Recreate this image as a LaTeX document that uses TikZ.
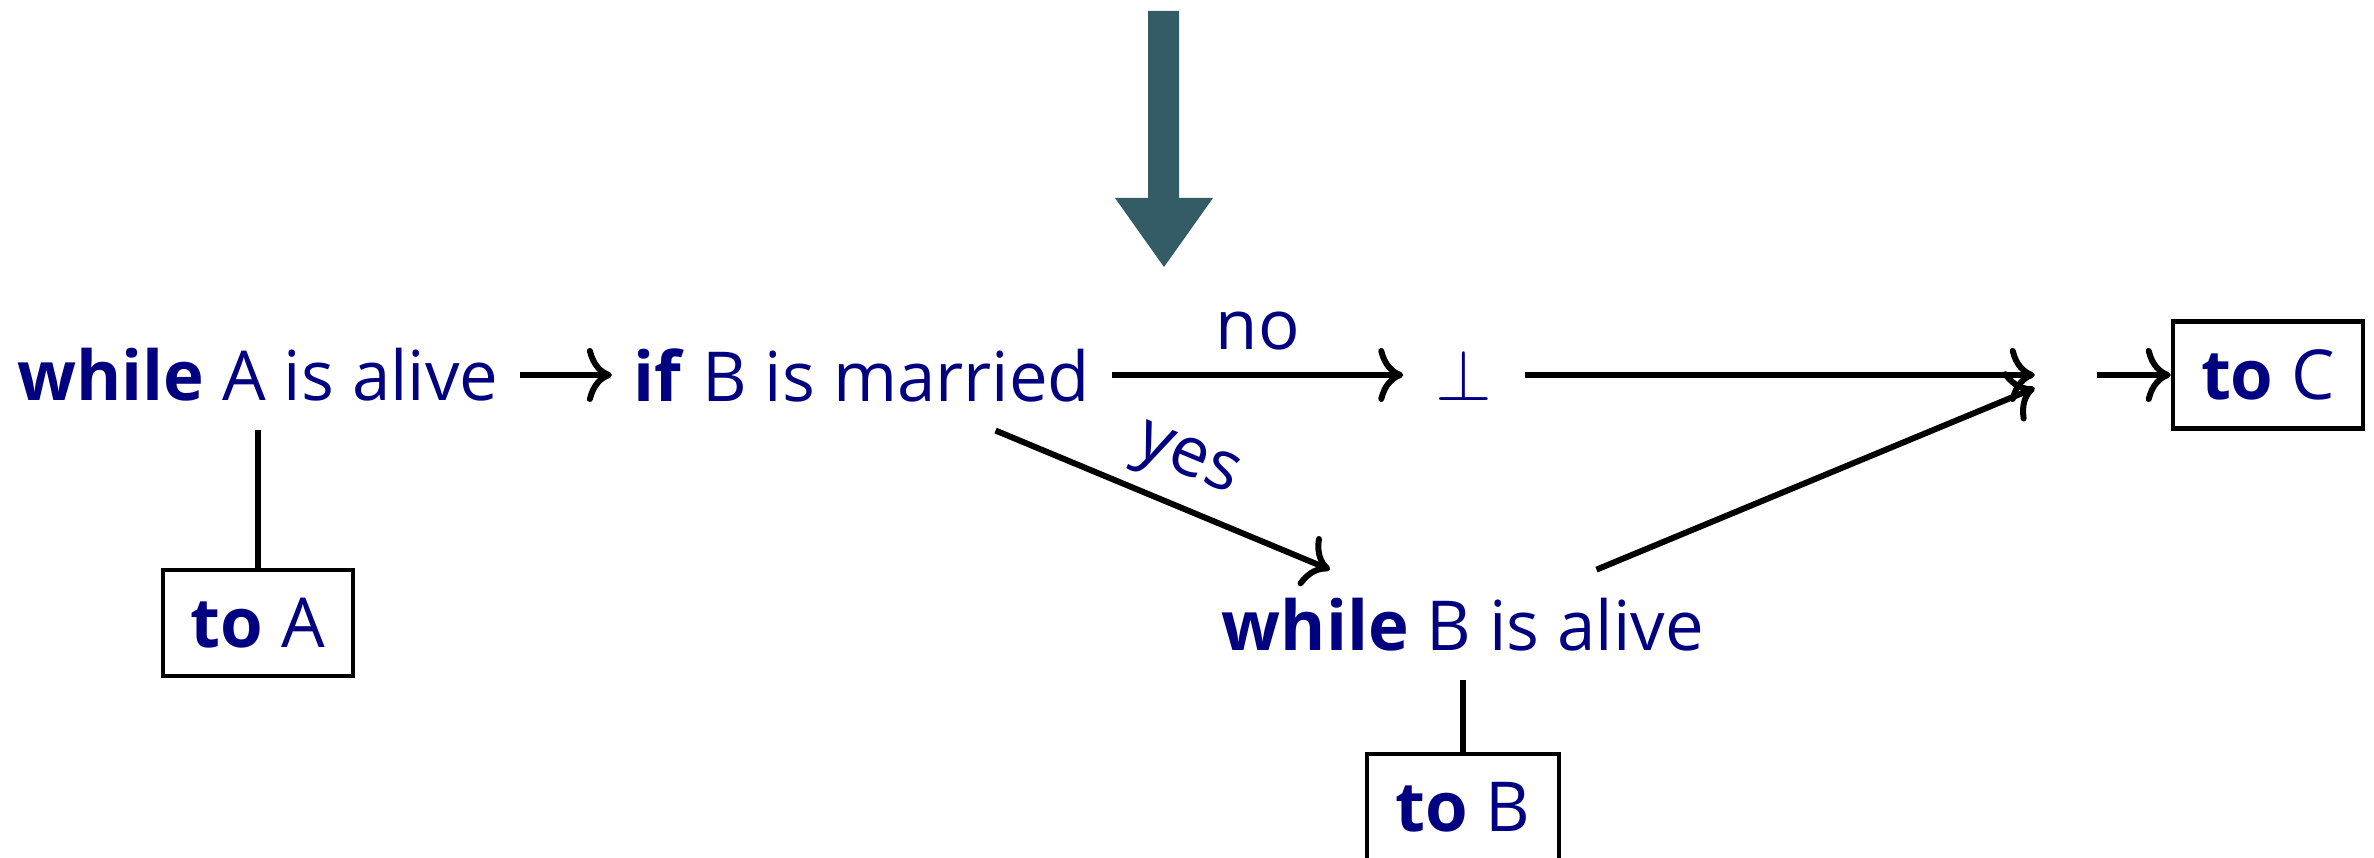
\documentclass[tikz,border=0pt]{standalone}
\usepackage{fontspec}
\setmainfont{Open Sans}
\usetikzlibrary{arrows.meta}
\definecolor{txt}{RGB}{0,0,128}
\definecolor{bigarr}{RGB}{51,92,103}
\begin{document}
\begin{tikzpicture}[x=0.01cm,y=-0.01cm,
  lbl/.style={text=txt, font=\fontsize{19.6}{23}\selectfont, inner xsep=6pt, inner ysep=8pt},
  boxed/.style={lbl, draw=black, line width=1.2pt, inner sep=8pt},
  conn/.style={line width=1.7pt, draw=black},
  arr/.style={conn, -{Computer Modern Rightarrow[length=2.5mm,width=5.4mm]}},
  edgelbl/.style={text=txt, font=\fontsize{19.6}{23}\selectfont},
]
\useasboundingbox (0,0) rectangle (2374,858);
\fill[bigarr] (1148,11) -- (1179,11) -- (1179,198) -- (1213,198) -- (1164,267) -- (1115,198) -- (1148,198) -- cycle;
\node[lbl] (wA) at (258,375) {\textbf{while} A is alive};
\node[lbl] (ifB) at (862,375) {\textbf{if} B is married};
\node[lbl, inner xsep=9pt] (bot) at (1464,375) {$\bot$};
\node[inner sep=0pt, minimum height=30pt, minimum width=0.61cm] (m) at (2066,375) {};
\node[boxed] (toC) at (2268,375) {\textbf{to} C};
\node[lbl] (wB) at (1463,625) {\textbf{while} B is alive};
\node[boxed] (toA) at (258,623) {\textbf{to} A};
\node[boxed] (toB) at (1463,807) {\textbf{to} B};
\draw[arr] (wA) -- (ifB);
\draw[arr] (ifB) -- node[edgelbl, above, yshift=3pt] (no) {no} (bot);
\draw[arr] (bot) -- (m);
\draw[arr] (ifB) -- node[edgelbl, pos=0.52, sloped, above] (yes) {yes} (wB);
\draw[arr] (wB) -- (m);
\draw[arr] (m) -- (toC);
\draw[conn] (wA) -- (toA);
\draw[conn] (wB) -- (toB);
\end{tikzpicture}
\end{document}
